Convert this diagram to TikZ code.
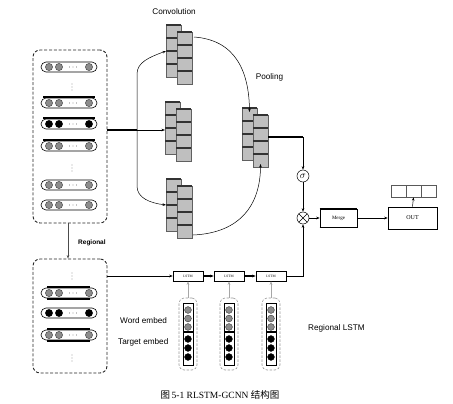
\documentclass[tikz,border=0pt]{standalone}
\usepackage{fontspec}
\setmainfont{Liberation Serif}
\newfontfamily\labsans{Liberation Sans}
\newfontfamily\cjkfont{Noto Sans CJK SC}
\usetikzlibrary{arrows.meta}
\tikzset{
  arr/.style={-{Stealth[length=3.5pt,width=2.6pt]}, line width=0.5pt},
  garr/.style={-{Stealth[length=3.5pt,width=2.6pt]}, line width=1pt, draw=gray!70},
  thickline/.style={line width=1.6pt},
  dashbox/.style={draw=black!85, line width=0.9pt, dash pattern=on 3pt off 1.8pt, rounded corners=7pt, minimum width=74pt, inner sep=0pt},
  tokbox/.style={draw=gray!80, line width=0.6pt, dash pattern=on 2.5pt off 1.5pt, rounded corners=5pt, minimum width=18pt, minimum height=72pt, inner sep=0pt},
  pill/.style={draw=black, line width=0.6pt, rounded corners=5pt, minimum width=56pt, minimum height=10pt, inner sep=0pt},
  gdot/.style={fill=black!45, draw=black!75, line width=0.45pt},
  bdot/.style={fill=black, draw=black, line width=0.45pt},
  cellbox/.style={fill=gray!50, draw=gray!75!black, line width=0.4pt},
  celltop/.style={draw=gray!40!black, line width=1.1pt},
  lstmbox/.style={draw=black, line width=0.6pt, fill=white, minimum width=30pt, minimum height=10pt, inner sep=0pt, font=\fontsize{3.5}{4}\selectfont},
  opcirc/.style={draw=black, circle, minimum size=12pt, inner sep=0pt, line width=0.5pt},
  lab/.style={font=\labsans\fontsize{8.2}{10}\selectfont, inner sep=0pt},
  outcell/.style={draw=gray!70!black, minimum width=15pt, minimum height=12pt, inner sep=0pt, line width=0.5pt}
}
\newcommand\cnnstack[3]{%
  \foreach \k in {0,1,2,3}{
    \draw[cellbox] ({#2},{#3+13*\k}) rectangle ++(15,13);
    \draw[celltop] ({#2},{#3+13*\k}) -- ++(15,0);
  }
  \foreach \k in {0,1,2,3}{
    \draw[cellbox] ({#2+11},{#3+7+13*\k}) rectangle ++(15,13);
    \draw[celltop] ({#2+11},{#3+7+13*\k}) -- ++(15,0);
  }
  \coordinate (#1-w) at ({#2},{#3+26});
  \coordinate (#1-ot) at ({#2+28},{#3+12});
  \coordinate (#1-ob) at ({#2+27},{#3+56});
  \coordinate (#1-n) at ({#2+7.5},{#3});
  \coordinate (#1-s) at ({#2+18.5},{#3+59});
  \coordinate (#1-e) at ({#2+26},{#3+29});
}
\newcommand\pillrow[3]{%
  \node[pill] (#1) at (69,#2) {};
  \draw[#3] (49,#2) circle (3.6);
  \draw[#3] (59,#2) circle (3.6);
  \draw[#3] (89,#2) circle (3.6);
  \foreach \d in {69.5,73,76.5} \fill (\d,#2) circle (0.35);
}
\newcommand\vdotsat[1]{%
  \foreach \d in {-3,0,3} \fill (72,{#1+\d}) circle (0.35);
}
\newcommand\tokcol[2]{%
  \node[tokbox] (#1) at (#2,334) {};
  \draw[line width=0.7pt] ({#2-5},303) rectangle ({#2+5},365);
  \foreach \yy in {310,318.5,327} \draw[gdot] (#2,\yy) circle (3.4);
  \draw[line width=1.3pt] ({#2-5},332) -- ({#2+5},332);
  \foreach \yy in {339,348,357} \draw[bdot] (#2,\yy) circle (3.4);
}
\begin{document}
\begin{tikzpicture}[x=1pt,y=-1pt]
\useasboundingbox (0,0) rectangle (453,404);

% ---- top regional box
\node[dashbox, minimum height=173pt] (topbox) at (70,136.5) {};
\pillrow{r1}{67}{gdot}
\vdotsat{87}
\draw[thickline] (43,97) -- (95,97);
\pillrow{r2}{103}{gdot}
\draw[thickline] (43,118) -- (95,118);
\pillrow{r3}{124}{bdot}
\draw[thickline] (43,140) -- (95,140);
\pillrow{r4}{146}{gdot}
\vdotsat{168}
\pillrow{r5}{185}{gdot}
\pillrow{r6}{205}{gdot}

% ---- bottom regional box
\node[dashbox, minimum height=114pt] (botbox) at (70,316) {};
\vdotsat{276}
\draw[thickline] (47,287) -- (90,287);
\draw[thickline] (47,299) -- (90,299);
\pillrow{s1}{293}{gdot}
\pillrow{s2}{313}{bdot}
\draw[thickline] (47,329) -- (90,329);
\draw[thickline] (47,341) -- (90,341);
\pillrow{s3}{335}{gdot}
\vdotsat{358}

\draw[arr, draw=black!70] (topbox.south -| 68,0) -- (botbox.north -| 68,0);
\node[lab, anchor=west, font=\labsans\bfseries\fontsize{6.5}{8}\selectfont] (regl) at (78,243) {Regional};

% ---- convolution stacks
\cnnstack{c1}{166}{25}
\cnnstack{c2}{165}{102}
\cnnstack{c3}{166}{179}
\cnnstack{p}{242}{108}

\coordinate (br) at (137,130);
\draw[thickline] (topbox.east |- br) -- (br);
\draw[arr] (br) -- (c2-w |- br);
\draw[arr] (br) -- (137,74) .. controls (137,62) and (150,57) .. (c1-w);
\draw[arr] (br) -- (137,186) .. controls (137,198) and (150,203) .. (c3-w);

\draw[arr] (c1-ot) .. controls (236,40) and (249,72) .. ([yshift=-4pt]p-n);
\draw[arr] (c3-ob) .. controls (240,233) and (260.5,205) .. ([yshift=3pt]p-s);

\node[lab] (conv) at (174,12) {Convolution};
\node[lab] (pool) at (269.5,77) {Pooling};

% ---- gates and output
\node[opcirc] (sig) at (303,176) {$\sigma$};
\node[opcirc, path picture={
  \draw[line width=0.5pt] (path picture bounding box.north west) -- (path picture bounding box.south east)
        (path picture bounding box.north east) -- (path picture bounding box.south west);}] (ot) at (303,218) {};
\coordinate (pc) at (303,137);
\draw[thickline] (p-e |- pc) -- (pc);
\draw[arr] (pc) -- (sig.north);
\draw[arr] (sig.south) -- (ot.north);

\node[draw, line width=0.6pt, minimum width=37pt, minimum height=18pt, inner sep=0pt, font=\fontsize{5}{6}\selectfont] (merge) at (338.5,218) {Merge};
\draw[line width=1.3pt] (merge.north west) -- (merge.north east);
\draw[line width=1.3pt] (merge.south west) -- (merge.south east);
\node[draw, line width=0.6pt, minimum width=49pt, minimum height=22pt, inner sep=0pt, font=\fontsize{6}{7}\selectfont] (out) at (412.5,218) {OUT};
\draw[line width=1.3pt] (out.south west) -- (out.south east);
\node[outcell] (oc1) at (398.5,191) {};
\node[outcell] (oc2) at (413.5,191) {};
\node[outcell] (oc3) at (428.5,191) {};
\draw[arr] (ot.east) -- (merge.west);
\draw[arr] (merge.east) -- (out.west);
\draw[arr] (out.north) -- (oc2.south);

% ---- LSTM chain
\node[lstmbox] (l1) at (188,276) {LSTM};
\node[lstmbox] (l2) at (229,276) {LSTM};
\node[lstmbox] (l3) at (271,276) {LSTM};
\foreach \n in {l1,l2,l3} \draw[line width=1.3pt] (\n.south west) -- (\n.south east);
\draw[arr] (botbox.east |- l1) -- (l1.west);
\draw[arr, line width=1.4pt] (l1.east) -- (l2.west);
\draw[arr, line width=1.4pt] (l2.east) -- (l3.west);
\draw[arr] (l3.east) -- (303,276) -- (ot.south);

\tokcol{t1}{188}
\tokcol{t2}{229}
\tokcol{t3}{271}
\draw[garr] (t1.north) -- (l1.south);
\draw[garr] (t2.north) -- (l2.south);
\draw[garr] (t3.north) -- (l3.south);

\node[lab, anchor=west] (we) at (120,321) {Word embed};
\node[lab, anchor=west] (te) at (118,342) {Target embed};
\node[lab, anchor=west] (rl) at (308,328) {Regional LSTM};

\node[inner sep=0pt, font=\fontsize{9.5}{11}\selectfont] (cap) at (220,395) {{\cjkfont 图}\,5-1 RLSTM-GCNN {\cjkfont 结构图}};
\end{tikzpicture}
\end{document}
